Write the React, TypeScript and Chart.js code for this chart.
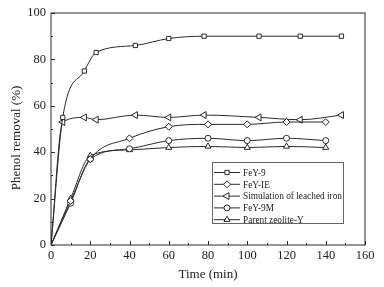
import React, { useEffect, useRef } from "react";
import { Chart, registerables } from "chart.js";

Chart.register(...registerables);

const labels = ["FeY-9", "FeY-IE", "Simulation of leached iron", "FeY-9M", "Parent zeolite-Y"];
const timeFeY9 = [0, 6, 17, 23, 43, 60, 78, 106, 127, 148];
const valFeY9 = [0, 55, 75, 83, 86, 89, 90, 90, 90, 90];
const timeSim = [0, 6, 17, 23, 43, 60, 78, 106, 127, 148];
const valSim = [0, 53, 55, 54, 56, 55, 56, 55, 54, 56];
const timeStd = [0, 10, 20, 40, 60, 80, 100, 120, 140];
const valFeYIE = [0, 19, 37, 46, 51, 52, 52, 53, 53];
const valFeY9M = [0, 18, 37, 41.5, 45, 46, 45, 46, 45];
const valParent = [0, 20, 38.5, 41, 42, 42.5, 42, 42.5, 42];
const xTicks = [0, 20, 40, 60, 80, 100, 120, 140, 160];
const yTicks = [0, 20, 40, 60, 80, 100];
const xTitle = "Time (min)";
const yTitle = "Phenol removal (%)";

const FONT = "'Liberation Serif', 'Times New Roman', serif";
const LINE = "#2a2a2a";
const TEXT = "#222";

const styles = [
  { style: "rect", rot: 0, r: 3 },
  { style: "rectRot", rot: 0, r: 3.5 },
  { style: "triangle", rot: -90, r: 4 },
  { style: "circle", rot: 0, r: 3 },
  { style: "triangle", rot: 0, r: 3.5 },
];

function marker(ctx: CanvasRenderingContext2D, i: number, x: number, y: number) {
  const s = styles[i];
  const r = s.r;
  ctx.beginPath();
  if (s.style === "rect") {
    const h = r * Math.SQRT1_2;
    ctx.rect(x - h, y - h, 2 * h, 2 * h);
  } else if (s.style === "rectRot") {
    ctx.moveTo(x, y - r); ctx.lineTo(x + r, y); ctx.lineTo(x, y + r); ctx.lineTo(x - r, y); ctx.closePath();
  } else if (s.style === "circle") {
    ctx.arc(x, y, r, 0, Math.PI * 2);
  } else {
    const a0 = (s.rot * Math.PI) / 180 - Math.PI / 2;
    for (let k = 0; k < 3; k++) {
      const a = a0 + (k * 2 * Math.PI) / 3;
      const px = x + Math.cos(a) * r, py = y + Math.sin(a) * r;
      if (k === 0) ctx.moveTo(px, py); else ctx.lineTo(px, py);
    }
    ctx.closePath();
  }
  ctx.fillStyle = "#fff";
  ctx.fill();
  ctx.stroke();
}

const frameTicks = {
  id: "frameTicks",
  afterDraw(chart: any) {
    const { ctx, chartArea: a, scales } = chart;
    ctx.save();
    ctx.strokeStyle = LINE;
    ctx.lineWidth = 1;
    ctx.strokeRect(a.left, a.top, a.right - a.left, a.bottom - a.top);
    for (let v = 0; v <= 160; v += 10) {
      const x = Math.round(scales.x.getPixelForValue(v)) + 0.5;
      const len = v % 20 === 0 ? 4 : 2;
      ctx.beginPath();
      ctx.moveTo(x, a.bottom);
      ctx.lineTo(x, a.bottom - len);
      ctx.stroke();
    }
    for (let v = 0; v <= 100; v += 10) {
      const y = Math.round(scales.y.getPixelForValue(v)) + 0.5;
      const len = v % 20 === 0 ? 4 : 2;
      ctx.beginPath();
      ctx.moveTo(a.left, y);
      ctx.lineTo(a.left + len, y);
      ctx.stroke();
    }
    // axis titles
    ctx.fillStyle = TEXT;
    ctx.font = `13px ${FONT}`;
    ctx.textAlign = "center";
    ctx.textBaseline = "middle";
    ctx.fillText(xTitle, (a.left + a.right) / 2, 275);
    ctx.save();
    ctx.translate(17, 138);
    ctx.rotate(-Math.PI / 2);
    ctx.fillText(yTitle, 0, 0);
    ctx.restore();
    // legend
    const bx = 212, by = 162, bw = 131, bh = 61;
    ctx.strokeStyle = "#666";
    ctx.strokeRect(bx + 0.5, by + 0.5, bw, bh);
    ctx.font = `11px ${FONT}`;
    ctx.textAlign = "left";
    const maxW = Math.max(...chart.data.datasets.map((d: any) => ctx.measureText(d.label).width));
    const sx = Math.min(1, 99 / maxW);
    chart.data.datasets.forEach((ds: any, i: number) => {
      const y = by + 10.5 + i * 11.8;
      ctx.strokeStyle = LINE;
      ctx.beginPath();
      ctx.moveTo(bx + 2, y);
      ctx.lineTo(bx + 28, y);
      ctx.stroke();
      marker(ctx, i, bx + 15, y);
      ctx.fillStyle = TEXT;
      ctx.save();
      ctx.translate(bx + 31, y + 0.5);
      ctx.scale(sx, 1);
      ctx.fillText(ds.label, 0, 0);
      ctx.restore();
    });
    ctx.restore();
  },
};

export default function App() {
  const ref = useRef<HTMLCanvasElement | null>(null);
  useEffect(() => {
    document.body.style.margin = "0";
    const mk = (i: number, xs: number[], ys: number[]) => ({
      label: labels[i],
      data: xs.map((x, k) => ({ x, y: ys[k] })),
      borderColor: LINE,
      borderWidth: 1,
      backgroundColor: "#fff",
      pointBackgroundColor: "#fff",
      pointBorderColor: LINE,
      pointBorderWidth: 1,
      pointStyle: styles[i].style,
      pointRotation: styles[i].rot,
      pointRadius: xs.map((x) => (x === 0 ? 0 : styles[i].r)),
      cubicInterpolationMode: "monotone",
      fill: false,
    });
    const chart = new Chart(ref.current as HTMLCanvasElement, {
      type: "line",
      data: {
        datasets: [
          mk(0, timeFeY9, valFeY9),
          mk(1, timeStd, valFeYIE),
          mk(2, timeSim, valSim),
          mk(3, timeStd, valFeY9M),
          mk(4, timeStd, valParent),
        ] as any,
      },
      options: {
        animation: false,
        responsive: false,
        layout: { padding: { left: 0, top: 13, right: 19, bottom: 0 } },
        plugins: { legend: { display: false }, tooltip: { enabled: false } },
        scales: {
          x: {
            type: "linear",
            min: 0,
            max: 160,
            afterBuildTicks: (s: any) => { s.ticks = xTicks.map((v) => ({ value: v })); },
            afterFit: (s: any) => { s.height = 42; },
            grid: { display: false, drawTicks: false },
            border: { display: false },
            ticks: { color: TEXT, font: { family: FONT, size: 12.5 }, padding: 3, maxRotation: 0 },
            title: { display: false },
          },
          y: {
            min: 0,
            max: 100,
            afterBuildTicks: (s: any) => { s.ticks = yTicks.map((v) => ({ value: v })); },
            afterFit: (s: any) => { s.width = 51; },
            grid: { display: false, drawTicks: false },
            border: { display: false },
            ticks: { color: TEXT, font: { family: FONT, size: 12.5 }, padding: 5 },
            title: { display: false },
          },
        },
      } as any,
      plugins: [frameTicks],
    });
    return () => chart.destroy();
  }, []);
  return (
    <div style={{ width: 384, height: 287, background: "#fff" }}>
      <canvas ref={ref} width={384} height={287} style={{ display: "block" }} />
    </div>
  );
}
